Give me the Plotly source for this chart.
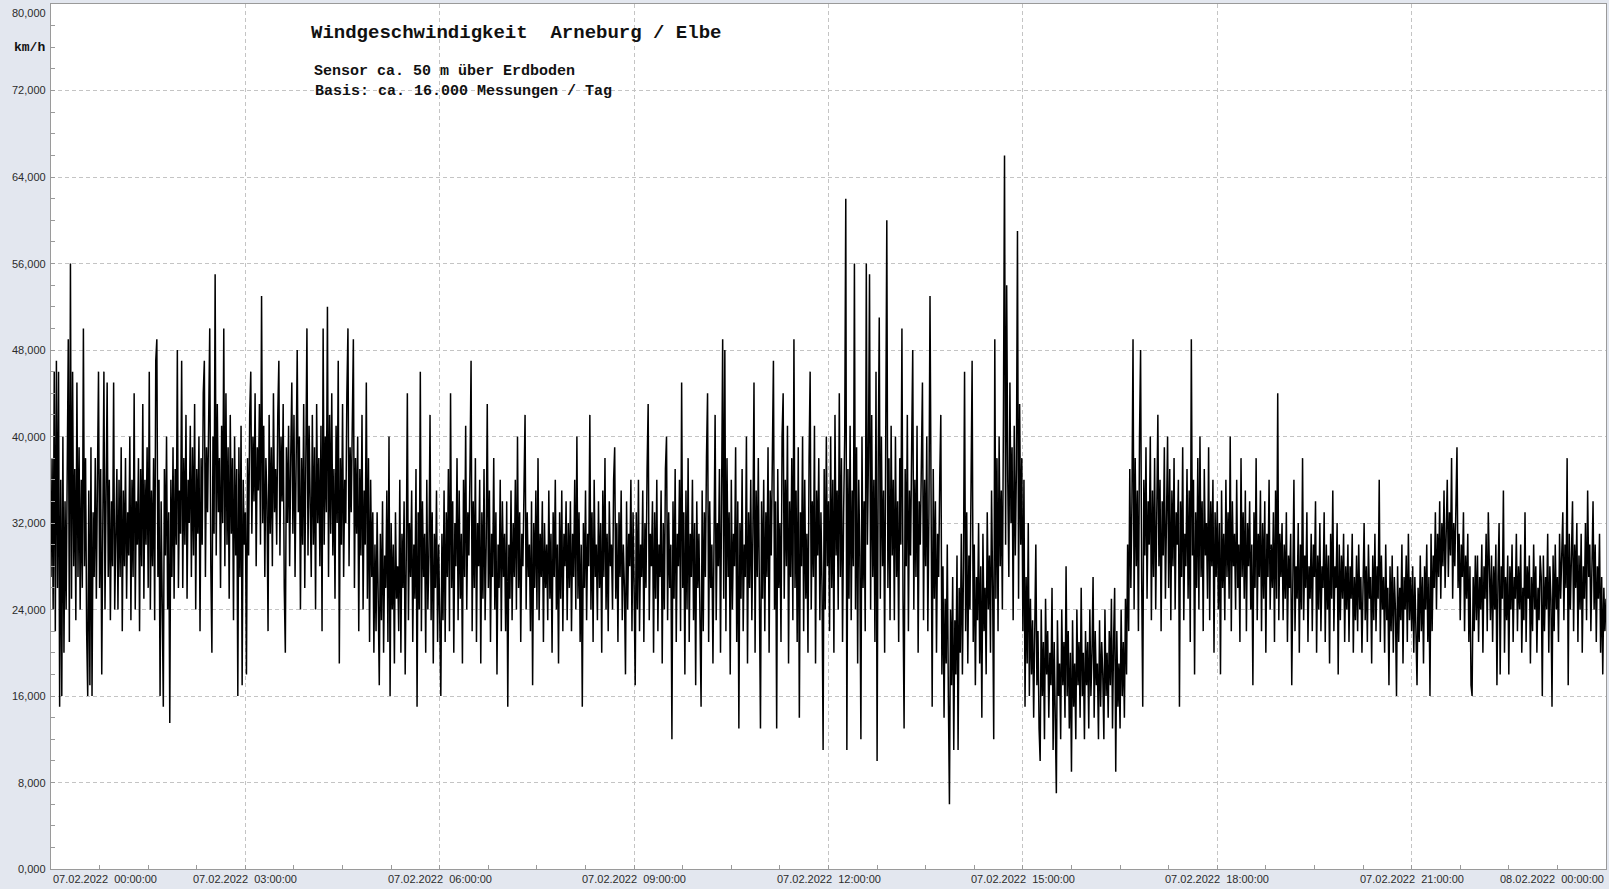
import pandas as pd
import plotly.graph_objects as go

# Wind speed (km/h), 1-minute steps; one list per 3 hours (60 values per hour line block)
wind_00_03 = [
    27, 38, 24, 46, 22, 47, 26, 46, 15, 36, 16, 40, 20, 34, 24, 38, 49, 21, 56, 25,
    46, 28, 37, 23, 45, 27, 39, 24, 36, 26, 50, 28, 38, 22, 16, 35, 17, 39, 16, 33,
    27, 38, 25, 36, 46, 26, 37, 18, 35, 46, 24, 38, 45, 27, 36, 23, 34, 28, 45, 24,
    30, 37, 24, 36, 27, 39, 22, 35, 28, 38, 25, 33, 29, 40, 23, 36, 27, 44, 24, 34,
    30, 38, 22, 37, 28, 43, 25, 36, 30, 39, 26, 46, 24, 35, 28, 38, 23, 47, 49, 27,
    36, 16, 34, 26, 15, 37, 29, 40, 24, 33, 13.5, 36, 27, 39, 25, 37, 30, 48, 26, 35,
    31, 47, 26, 38, 30, 42, 25, 36, 32, 41, 27, 39, 29, 43, 24, 37, 31, 40, 22, 38,
    30, 44, 47, 27, 39, 33, 42, 50, 28, 20, 40, 31, 55, 29, 43, 33, 38, 26, 41, 32,
    50, 28, 44, 30, 39, 25, 42, 31, 38, 23, 40, 29, 37, 16, 39, 27, 41, 17, 36, 30,
]
wind_03_06 = [
    33, 18, 38, 29, 42, 46, 31, 40, 34, 44, 28, 39, 35, 43, 30, 53, 32, 41, 27, 38,
    34, 22, 42, 31, 39, 28, 44, 33, 37, 30, 42, 47, 29, 40, 34, 43, 26, 20, 39, 32,
    41, 28, 38, 45, 31, 42, 27, 36, 48, 33, 40, 24, 38, 30, 43, 26, 37, 50, 29, 41,
    34, 27, 42, 30, 39, 24, 43, 32, 38, 28, 41, 22, 50, 30, 40, 33, 52, 27, 42, 31,
    44, 29, 37, 25, 41, 32, 47, 19, 38, 30, 43, 27, 36, 32, 44, 50, 28, 39, 33, 42,
    49, 26, 38, 31, 40, 22, 37, 29, 42, 24, 35, 30, 45, 25, 38, 21, 36, 27, 33, 20,
    30, 22, 33, 25, 17, 31, 23, 34, 20, 29, 26, 35, 21, 40, 16, 32, 24, 30, 19, 33,
    25, 28, 22, 36, 20, 31, 26, 34, 18, 29, 44, 23, 32, 27, 35, 21, 30, 25, 37, 15,
    33, 24, 46, 22, 34, 27, 31, 20, 36, 24, 29, 42, 23, 33, 19, 31, 26, 35, 21, 30,
]
wind_06_09 = [
    24, 16, 31, 23, 35, 21, 33, 27, 37, 22, 44, 26, 34, 20, 32, 28, 38, 23, 35, 25,
    31, 19, 36, 27, 41, 24, 33, 29, 37, 47, 22, 34, 26, 38, 21, 32, 28, 36, 19, 33,
    25, 37, 23, 30, 43, 26, 35, 21, 31, 27, 38, 24, 33, 18, 30, 26, 36, 22, 34, 27,
    31, 22, 34, 15, 30, 25, 35, 23, 32, 27, 36, 24, 40, 26, 33, 21, 31, 28, 35, 42,
    24, 33, 27, 30, 22, 34, 17, 32, 26, 35, 24, 38, 23, 31, 27, 34, 21, 32, 26, 30,
    23, 35, 25, 31, 20, 33, 27, 36, 24, 30, 19, 33, 25, 35, 22, 31, 28, 34, 23, 32,
    26, 34, 22, 31, 27, 36, 24, 40, 25, 33, 21, 30, 15, 32, 26, 35, 23, 31, 28, 42,
    24, 33, 21, 36, 27, 30, 23, 34, 26, 32, 20, 35, 27, 38, 24, 31, 22, 34, 28, 30,
    24, 36, 39, 25, 32, 21, 33, 27, 35, 23, 30, 26, 18, 34, 24, 31, 28, 36, 22, 33,
]
wind_09_12 = [
    26, 17, 33, 24, 36, 22, 30, 27, 35, 21, 32, 26, 37, 43, 23, 31, 28, 34, 20, 33,
    25, 36, 22, 30, 27, 35, 19, 32, 24, 37, 40, 23, 33, 26, 30, 12, 34, 25, 37, 21,
    31, 28, 36, 22, 45, 26, 33, 18, 35, 24, 38, 21, 31, 27, 36, 23, 32, 17, 34, 26,
    31, 24, 15, 35, 22, 33, 27, 38, 44, 21, 34, 26, 30, 19, 36, 42, 23, 32, 28, 37,
    20, 35, 49, 25, 48, 22, 38, 27, 33, 18, 36, 24, 31, 28, 39, 21, 34, 13, 32, 25,
    37, 22, 30, 27, 40, 19, 33, 26, 36, 23, 31, 45, 20, 35, 27, 38, 22, 13, 34, 25,
    36, 22, 33, 27, 39, 20, 35, 29, 38, 47, 24, 34, 13, 37, 26, 32, 21, 40, 44, 25,
    36, 28, 41, 19, 34, 27, 38, 23, 49, 26, 35, 21, 39, 14, 33, 28, 40, 22, 36, 25,
    31, 20, 38, 46, 24, 34, 27, 41, 19, 35, 29, 38, 23, 33, 26, 11, 37, 24, 40, 28,
]
wind_12_15 = [
    34, 22, 40, 26, 36, 20, 42, 29, 35, 24, 44, 27, 38, 21, 33, 40, 62, 11, 37, 25,
    41, 23, 35, 28, 56, 24, 39, 19, 36, 29, 12, 40, 26, 34, 22, 56, 30, 38, 55, 24,
    42, 27, 36, 21, 46, 10, 37, 51, 25, 40, 28, 35, 20, 43, 60, 26, 38, 23, 41, 29,
    36, 23, 40, 27, 34, 21, 38, 30, 50, 25, 13, 37, 28, 42, 22, 35, 29, 39, 48, 24,
    36, 27, 41, 20, 34, 30, 38, 45, 23, 36, 28, 40, 22, 33, 53, 26, 15, 37, 25, 34,
    20, 31, 27, 36, 42, 18, 28, 14, 25, 19, 30, 16, 6, 24, 17, 27, 11, 23, 18, 29,
    11, 26, 20, 31, 18, 28, 46, 22, 33, 19, 29, 24, 34, 47, 21, 30, 17, 27, 23, 32,
    19, 28, 14, 31, 22, 26, 18, 33, 24, 29, 20, 35, 26, 12, 49, 25, 38, 22, 40, 28,
    35, 24, 42, 66, 30, 54, 36, 27, 45, 32, 39, 23, 41, 29, 37, 59, 25, 43, 30, 38,
]
wind_15_18 = [
    22, 36, 15, 27, 19, 32, 16, 25, 18, 23, 14, 26, 30, 17, 22, 13, 10, 24, 16, 21,
    12, 25, 18, 22, 14, 20, 17, 26, 11, 21, 15, 7, 23, 16, 19, 12, 24, 17, 21, 14,
    28, 16, 22, 13, 20, 9, 23, 15, 19, 12, 24, 17, 21, 14, 26, 16, 20, 12, 22, 17,
    21, 13, 24, 16, 20, 27, 14, 22, 17, 19, 12, 23, 15, 21, 18, 12, 24, 16, 20, 14,
    22, 17, 25, 13, 21, 26, 9, 22, 15, 19, 13, 24, 16, 21, 14, 25, 18, 30, 22, 37,
    26, 34, 49, 24, 38, 28, 35, 22, 40, 48, 27, 15, 36, 29, 39, 25, 34, 30, 40, 23,
    35, 27, 38, 24, 33, 42, 28, 36, 22, 34, 29, 39, 25, 32, 40, 26, 37, 23, 35, 28,
    38, 24, 33, 30, 36, 15, 34, 27, 39, 23, 31, 28, 37, 25, 35, 21, 49, 29, 36, 18,
    33, 26, 38, 24, 40, 27, 34, 22, 37, 29, 32, 25, 39, 23, 34, 28, 36, 20, 33, 27,
]
wind_18_21 = [
    34, 24, 32, 18, 35, 26, 31, 23, 36, 27, 33, 25, 40, 22, 34, 28, 31, 24, 36, 26,
    30, 21, 38, 27, 33, 25, 35, 22, 32, 28, 34, 24, 30, 17, 33, 26, 38, 23, 31, 27,
    35, 22, 32, 25, 34, 20, 31, 27, 36, 24, 30, 26, 33, 21, 35, 25, 44, 23, 31, 27,
    32, 23, 30, 25, 33, 21, 29, 26, 31, 17, 30, 36, 22, 28, 25, 32, 20, 30, 24, 38,
    23, 29, 26, 33, 21, 28, 25, 31, 22, 30, 27, 34, 20, 29, 24, 32, 22, 28, 26, 33,
    21, 30, 24, 29, 19, 31, 25, 35, 22, 28, 26, 32, 18, 30, 23, 29, 25, 31, 21, 28,
    24, 30, 21, 28, 25, 31, 20, 27, 23, 29, 22, 30, 24, 27, 20, 29, 32, 23, 28, 21,
    30, 25, 27, 19, 29, 23, 31, 22, 28, 25, 36, 21, 29, 24, 27, 20, 30, 23, 26, 17,
    28, 22, 29, 20, 27, 24, 16, 28, 21, 26, 23, 30, 19, 27, 24, 29, 21, 31, 23, 27,
]
wind_21_24 = [
    22, 28, 20, 27, 23, 17, 26, 21, 29, 22, 27, 19, 28, 24, 30, 21, 27, 16, 31, 22,
    29, 26, 33, 24, 31, 27, 34, 25, 32, 28, 35, 26, 31, 36, 27, 33, 29, 38, 25, 32,
    28, 34, 39, 26, 31, 23, 30, 27, 33, 22, 29, 25, 31, 21, 28, 17, 16, 27, 22, 29,
    23, 29, 21, 27, 24, 30, 20, 28, 25, 31, 22, 33, 27, 23, 29, 21, 28, 24, 30, 17,
    27, 32, 18, 28, 25, 35, 20, 27, 23, 29, 18, 28, 24, 30, 21, 27, 25, 31, 22, 28,
    24, 30, 20, 26, 23, 33, 21, 28, 25, 29, 19, 27, 22, 30, 24, 28, 20, 26, 23, 29,
    27, 16, 29, 22, 27, 24, 31, 20, 28, 25, 15, 29, 22, 30, 24, 27, 21, 31, 25, 29,
    33, 23, 30, 26, 38, 17, 31, 24, 28, 34, 22, 30, 26, 32, 21, 29, 24, 31, 20, 28,
    25, 32, 23, 35, 27, 30, 22, 29, 34, 24, 30, 21, 28, 25, 31, 20, 27, 18, 26, 22,
    25,
]

y_tick_values = [0, 8, 16, 24, 32, 40, 48, 56, 64, 72, 80]
y_tick_labels = ["0,000", "8,000", "16,000", "24,000", "32,000", "40,000", "48,000", "56,000", "64,000", "72,000", "80,000"]
x_tick_values = ["2022-02-07 00:00", "2022-02-07 03:00", "2022-02-07 06:00", "2022-02-07 09:00", "2022-02-07 12:00",
                 "2022-02-07 15:00", "2022-02-07 18:00", "2022-02-07 21:00", "2022-02-08 00:00"]
x_tick_labels = ["07.02.2022\u00a0\u00a000:00:00", "07.02.2022\u00a0\u00a003:00:00", "07.02.2022\u00a0\u00a006:00:00",
                 "07.02.2022\u00a0\u00a009:00:00", "07.02.2022\u00a0\u00a012:00:00", "07.02.2022\u00a0\u00a015:00:00",
                 "07.02.2022\u00a0\u00a018:00:00", "07.02.2022\u00a0\u00a021:00:00", "08.02.2022\u00a0\u00a000:00:00"]

title_text = "Windgeschwindigkeit\u00a0\u00a0Arneburg / Elbe"
sub1 = "Sensor ca. 50 m über Erdboden"
sub2 = "Basis: ca. 16.000 Messungen / Tag"
unit_text = "km/h"

values = wind_00_03 + wind_03_06 + wind_06_09 + wind_09_12 + wind_12_15 + wind_15_18 + wind_18_21 + wind_21_24
times = pd.date_range("2022-02-07 00:00", periods=len(values), freq="1min")

W, H = 1609, 889
L, R, T, B = 51, 3, 4, 20
PW, PH = W - L - R, H - T - B


def px(xp):
    return (xp - L) / PW


def py(yp):
    return (H - B - yp) / PH


fig = go.Figure()
fig.add_trace(go.Scatter(x=times, y=values, mode="lines",
                         line=dict(color="black", width=1.5), hoverinfo="skip", showlegend=False))

tickfont = dict(family="Liberation Sans, Arial", size=11, color="#2b2b2b")
grid = dict(showgrid=True, gridcolor="#c4c4c4", gridwidth=1, griddash="4px,3px",
            showline=True, linecolor="#9a9a9a", linewidth=1, mirror=True,
            ticks="inside", ticklen=4, tickcolor="#9a9a9a", zeroline=False)

fig.update_xaxes(type="date", range=["2022-02-07 00:00", "2022-02-08 00:00"],
                 tickmode="array", tickvals=x_tick_values, showticklabels=False,
                 minor=dict(dtick=45 * 60 * 1000, ticks="inside", ticklen=4, tickcolor="#9a9a9a", showgrid=False),
                 **grid)
fig.update_yaxes(range=[0, 80], tickmode="array", tickvals=y_tick_values, showticklabels=False,
                 minor=dict(dtick=2, ticks="inside", ticklen=4, tickcolor="#9a9a9a", showgrid=False),
                 **grid)

fig.add_shape(type="rect", xref="paper", yref="paper", x0=px(300), x1=px(733), y0=py(100), y1=py(13),
              fillcolor="white", line=dict(width=0), layer="between")

mono = "Liberation Mono, Courier New, monospace"
ann = [
    dict(text=f"<b>{title_text}</b>", x=px(309), y=py(33), font=dict(family=mono, size=19, color="#111")),
    dict(text=f"<b>{sub1}</b>", x=px(312), y=py(71), font=dict(family=mono, size=15, color="#111")),
    dict(text=f"<b>{sub2}</b>", x=px(313), y=py(92), font=dict(family=mono, size=15, color="#111")),
]
for a in ann:
    fig.add_annotation(xref="paper", yref="paper", xanchor="left", yanchor="middle", showarrow=False, **a)

fig.add_annotation(text=f"<b>{unit_text}</b>", xref="paper", yref="paper", x=px(47), y=py(47),
                   xanchor="right", yanchor="middle", showarrow=False,
                   font=dict(family=mono, size=13, color="#111"))

# y tick labels (German decimal format), top one kept inside the page
for v, lab in zip(y_tick_values, y_tick_labels):
    ypos = v / 80.0
    if v == 80:
        ypos = py(13)
    fig.add_annotation(text=lab, xref="paper", yref="paper", x=px(48), y=ypos,
                       xanchor="right", yanchor="middle", showarrow=False, font=tickfont)

# x tick labels: first left-aligned, last right-aligned, others centred
n = len(x_tick_values)
for i, (v, lab) in enumerate(zip(x_tick_values, x_tick_labels)):
    anchor = "left" if i == 0 else ("right" if i == n - 1 else "center")
    fig.add_annotation(text=lab, xref="x", yref="paper", x=v, y=py(879),
                       xanchor=anchor, yanchor="middle", showarrow=False, font=tickfont)

fig.update_layout(width=W, height=H, margin=dict(l=L, r=R, t=T, b=B, autoexpand=False),
                  paper_bgcolor="#e3e7ef", plot_bgcolor="white")

fig.write_html("out.html", config={"displayModeBar": False},
               post_script="document.body.style.margin='0';document.body.style.overflow='hidden';")
